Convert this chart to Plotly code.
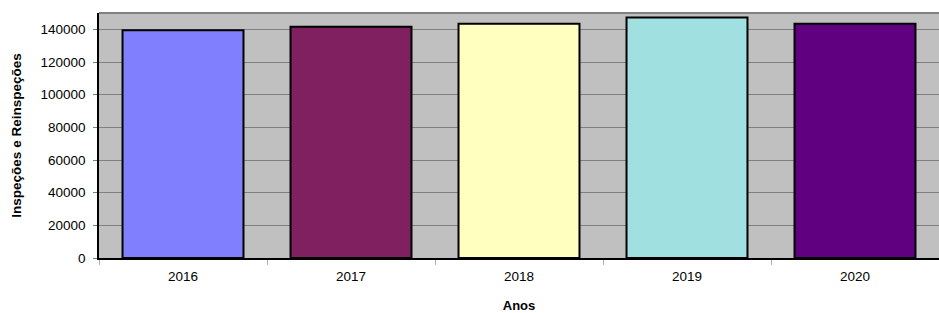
import plotly.graph_objects as go

anos = ["2016", "2017", "2018", "2019", "2020"]
inspecoes = [139500, 141600, 143400, 147300, 143400]
cores = ["#8080FF", "#802060", "#FFFFC0", "#A0E0E0", "#600080"]
y_ticks = [0, 20000, 40000, 60000, 80000, 100000, 120000, 140000]

fig = go.Figure(go.Bar(
    x=anos, y=inspecoes,
    marker=dict(color=cores, line=dict(color="#000000", width=2)),
    width=0.72,
))

fig.update_layout(
    width=939, height=313,
    margin=dict(l=99, r=0, t=13, b=55),
    paper_bgcolor="white",
    plot_bgcolor="#C0C0C0",
    font=dict(family="Liberation Sans, Arial, sans-serif", size=13, color="#000000"),
    showlegend=False,
    bargap=0.28,
)
fig.update_xaxes(
    type="category",
    showline=True, linecolor="#000000", linewidth=2,
    ticks="outside", tickson="boundaries", ticklen=5, tickcolor="#B0B0B0",
    ticklabelstandoff=5,
    showgrid=False,
    tickfont=dict(size=13.5),
    title=dict(text="<b>Anos</b>", font=dict(size=13), standoff=18),
)
fig.update_yaxes(
    range=[0, 150000],
    tickvals=y_ticks,
    ticktext=[str(v) for v in y_ticks],
    showline=True, linecolor="#000000", linewidth=1.5,
    ticks="outside", ticklen=4, tickcolor="#808080",
    ticklabelstandoff=5,
    showgrid=True, gridcolor="#808080", gridwidth=1,
    zeroline=False,
    mirror=False,
    tickfont=dict(size=13.5),
    title=dict(text="<b>Inspeções e Reinspeções</b>", font=dict(size=13.5), standoff=16),
)
fig.add_shape(type="line", xref="paper", yref="paper", x0=0, x1=1, y0=1, y1=1,
              line=dict(color="#808080", width=2))

fig.write_html("out.html", config={"displayModeBar": False},
               post_script="document.body.style.margin='0';document.body.style.overflow='hidden';")
